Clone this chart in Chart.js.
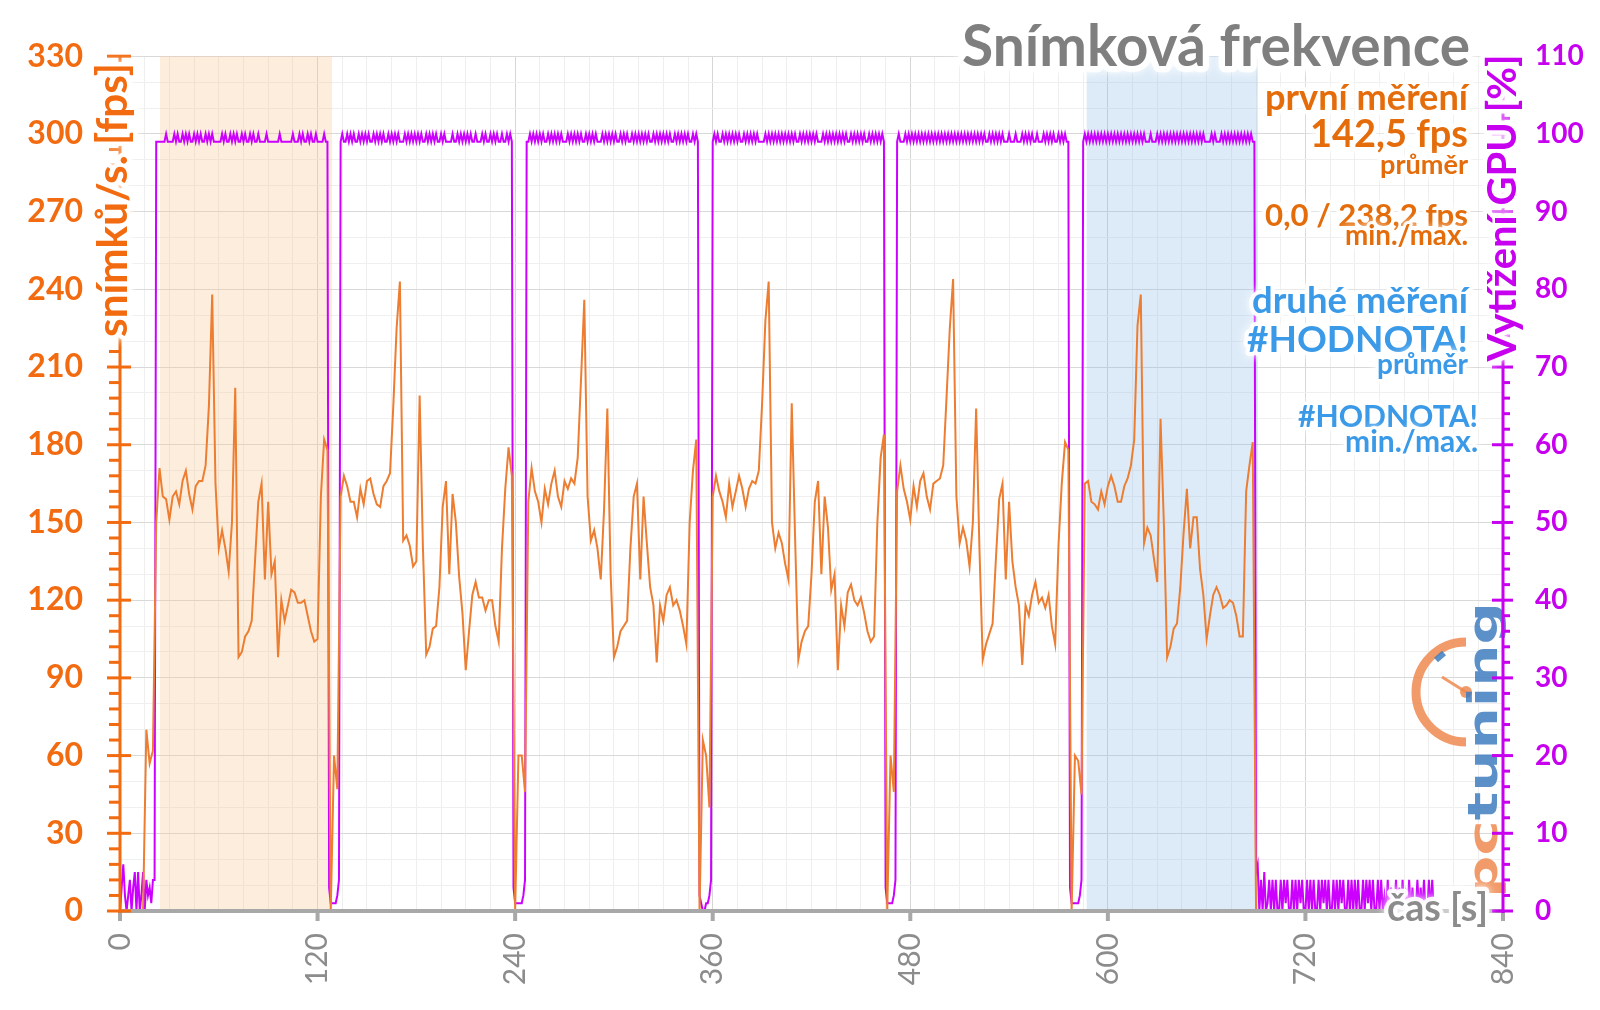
<!DOCTYPE html>
<html><head><meta charset="utf-8">
<script src="https://cdn.jsdelivr.net/npm/chart.js@4.4.1/dist/chart.umd.min.js"></script>
<style>html,body{margin:0;padding:0;background:#fff;}canvas{display:block;}</style>
</head><body>
<canvas id="c" width="1600" height="1010"></canvas>
<script>
// ---------------- DATA ----------------
// Frame rate (fps), one value every 2 s starting at 0 s
const fpsStepSec = 2;
const fpsIdleStart = [0,0,0,0,0,0,0,0,70,57,62];
const fpsRun1 = [150,171,160,159,151,160,162,157,166,170,
                 161,155,164,166,166,172,195,238,165,140,
                 147,140,131,150,202,98,100,106,108,112,
                 135,158,165,128,158,130,135,98,120,112,
                 118,124,123,119,119,120,114,108,104,105,
                 160,182,178];
const fpsGap1 = [0,60,47];
const fpsRun2 = [160,168,164,158,158,152,163,157,166,167,
                 161,157,156,164,166,169,195,225,243,143,
                 145,141,133,135,199,140,99,102,109,110,
                 125,156,166,130,161,150,129,115,93,108,
                 122,127,121,121,116,120,120,110,104,140,
                 163,179,168];
const fpsGap2 = [0,60,60,46];
const fpsRun3 = [158,171,162,158,150,163,157,165,170,160,
                 156,166,163,167,165,175,205,236,160,143,
                 147,140,128,155,194,130,98,102,108,110,
                 112,140,160,165,128,160,142,125,118,96,
                 118,112,122,125,118,120,116,110,103,150,
                 170,182];
const fpsGap3 = [0,66,60,40];
const fpsRun4 = [160,168,162,158,152,165,156,162,168,163,
                 156,163,166,165,170,196,228,243,150,140,
                 146,142,134,128,196,145,97,104,108,110,
                 130,158,166,130,160,148,124,130,93,118,
                 110,123,126,120,118,121,115,108,104,106,
                 150,175,184];
const fpsGap4 = [0,60,46];
const fpsRun5 = [162,172,163,158,151,164,156,166,169,160,
                 155,165,166,167,172,198,225,244,160,142,
                 148,143,133,150,194,140,97,103,107,111,
                 136,159,165,128,158,135,125,118,95,118,
                 114,122,127,119,121,117,122,110,103,141,
                 165,181,178];
const fpsGap5 = [0,60,58,45];
const fpsRun6 = [165,166,158,157,155,162,157,164,168,164,
                 158,158,164,167,172,182,226,238,142,148,
                 145,136,127,190,150,98,102,109,111,125,
                 146,163,140,152,152,132,122,105,114,122,
                 125,122,117,118,120,119,114,106,106,162,
                 172,181];
const fpsIdleEnd = [0,0,0,0,0,0,0,0,0,0,0,
                    0,0,0,0,0,0,0,0,0,0,0,
                    0,0,0,0,0,0,0,0,0,0,0,
                    0,0,0,0,0,0,0,0,0,0,0,
                    0,0,0,0,0,0,0,0,0,0,0];

// GPU load (%), one value every 1 s starting at 0 s
const gpuStepSec = 1;
const gpuIdleStart = [0,3,6,2,0,2,4,0,3,5,0,5,0,2,5,0,4,2,3,1,4,4];
const gpuRun1 = [99,99,99,99,99,99,100,99,99,99,99,100,99,100,99,
                 99,100,99,100,99,100,99,99,100,99,100,99,100,99,99,
                 100,99,100,99,100,99,99,99,99,99,100,99,100,99,99,
                 100,99,100,99,100,99,99,100,99,100,99,99,100,99,100,
                 99,99,100,99,99,99,99,100,99,99,99,99,99,99,99,
                 100,99,99,99,99,99,99,99,100,99,99,99,100,99,100,
                 99,99,100,99,100,99,99,100,99,99,99,99,100,99,99];
const gpuGap1 = [3,1,1,1,1,2,4];
const gpuRun2 = [99,100,99,99,100,99,100,99,100,99,99,100,99,100,99,
                 100,99,100,99,99,100,99,100,99,100,99,100,99,99,100,
                 99,100,99,100,99,100,99,99,99,100,99,100,99,100,99,
                 100,99,100,99,100,99,99,100,99,100,99,100,99,100,99,
                 99,100,99,100,99,99,99,99,100,99,99,100,99,100,99,
                 100,99,100,99,100,99,99,100,99,99,99,100,99,100,99,
                 99,100,99,100,99,100,99,99,100,99,99,100,99,100,99];
const gpuGap2 = [3,1,1,1,1,1,2,4];
const gpuRun3 = [99,99,100,99,100,99,100,99,100,99,100,99,99,100,99,
                 100,99,100,99,100,99,100,99,99,99,100,99,100,99,100,
                 99,100,99,100,99,99,100,99,100,99,100,99,100,99,99,
                 99,100,99,100,99,100,99,100,99,100,99,99,100,99,100,
                 99,100,99,99,100,99,100,99,100,99,100,99,100,99,100,
                 99,99,100,99,100,99,100,99,100,99,100,99,100,99,99,
                 100,99,100,99,100,99,100,99,100,99,99,100,99,100,99];
const gpuGap3 = [2,1,0,0,1,1,2,4];
const gpuRun4 = [99,100,99,100,99,99,100,99,100,99,100,99,100,99,100,
                 99,100,99,99,100,99,100,99,100,99,100,99,100,99,99,
                 99,99,100,99,100,99,100,99,100,99,100,99,100,99,100,
                 99,100,99,100,99,100,99,99,100,99,100,99,100,99,100,
                 99,100,99,100,99,99,99,100,99,100,99,100,99,100,99,
                 100,99,100,99,100,99,100,99,99,100,99,100,99,100,99,
                 100,99,100,99,99,100,99,100,99,100,99,100,99,100,99];
const gpuGap4 = [3,1,1,1,1,2,4];
const gpuRun5 = [99,100,99,99,99,100,99,100,99,100,99,100,99,100,99,
                 100,99,100,99,100,99,100,99,100,99,100,99,100,99,100,
                 99,100,99,100,99,100,99,100,99,100,99,100,99,100,99,
                 100,99,100,99,100,99,100,99,100,99,99,100,99,100,99,
                 100,99,100,99,100,99,99,99,100,99,99,99,100,99,99,
                 99,100,99,100,99,100,99,100,99,99,100,99,99,99,100,
                 99,100,99,100,99,100,99,99,100,99,100,99,100,99,99];
const gpuGap5 = [3,1,1,1,1,1,2,4];
const gpuRun6 = [99,100,99,100,99,100,99,100,99,100,99,100,99,100,99,
                 100,99,100,99,100,99,100,99,100,99,100,99,100,99,100,
                 99,100,99,100,99,100,99,100,99,99,99,100,99,99,99,
                 100,99,100,99,100,99,100,99,100,99,100,99,100,99,100,
                 99,100,99,100,99,100,99,100,99,100,99,100,99,100,99,
                 99,99,99,100,99,100,99,99,99,100,99,100,99,100,99,
                 100,99,100,99,100,99,100,99,100,99,100,99,100,99,99];
const gpuIdleEnd = [5,6,0,4,0,5,0,1,4,0,4,0,4,0,0,
                    4,0,4,1,4,0,0,4,0,4,0,4,1,4,0,
                    0,4,0,4,0,4,0,0,4,0,4,1,4,0,4,
                    0,0,4,0,4,0,4,1,4,0,0,4,0,4,0,
                    4,0,4,0,0,4,0,4,1,4,0,4,0,0,4,
                    0,4,0,2,0,4,0,3,0,0,4,0,3,0,4,
                    0,2,0,4,0,3,0,0,4,0,3,0,4,0,0,
                    4,0,4,0];

// Highlighted measurement windows (s)
const firstMeasurementWindow = [24.3, 128.8];
const secondMeasurementWindow = [587.1, 691.2];

// Axis ticks
const xTickLabels = [0,120,240,360,480,600,720,840];
const fpsTickLabels = [0,30,60,90,120,150,180,210,240,270,300,330];
const gpuTickLabels = [0,10,20,30,40,50,60,70,80,90,100,110];

// Texts
const chartTitle = 'Snímková frekvence';
const fpsAxisTitle = 'snímků/s. [fps]';
const gpuAxisTitle = 'Vytížení GPU [%]';
const timeAxisTitle = 'čas [s]';
const firstSummary = ['první měření', '142,5 fps', 'průměr', '0,0 / 238,2 fps', 'min./max.'];
const secondSummary = ['druhé měření', '#HODNOTA!', 'průměr', '#HODNOTA!', 'min./max.'];

// ---------------- BUILD ----------------
const fpsSeries = [].concat(fpsIdleStart, fpsRun1, fpsGap1, fpsRun2, fpsGap2, fpsRun3, fpsGap3,
                            fpsRun4, fpsGap4, fpsRun5, fpsGap5, fpsRun6, fpsIdleEnd);
const gpuSeries = [].concat(gpuIdleStart, gpuRun1, gpuGap1, gpuRun2, gpuGap2, gpuRun3, gpuGap3,
                            gpuRun4, gpuGap4, gpuRun5, gpuGap5, gpuRun6, gpuIdleEnd);
const fpsPoints = fpsSeries.map((v, i) => ({x: i * fpsStepSec, y: v}));
const gpuPoints = gpuSeries.map((v, i) => ({x: i * gpuStepSec, y: v}));

const C = {
  fpsLine: '#ED7D31', gpuLine: '#CC00FF', fpsAxis: '#F26B10', gpuAxis: '#C800F0',
  orangeTxt: '#E46C0A', blueTxt: '#3B9AE8', title: '#7F7F7F', xAxis: '#A8A8A8', xLabel: '#8C8C8C'
};
const FONT = 'Lato, "Open Sans", sans-serif';

function fitSize(ctx, text, target, weight) {
  ctx.font = `${weight} 100px ${FONT}`;
  return 100 * target / ctx.measureText(text).width;
}
function haloText(ctx, text, x, y, size, color, align, weight) {
  ctx.save();
  ctx.font = `${weight} ${size}px ${FONT}`;
  ctx.textAlign = align; ctx.textBaseline = 'alphabetic';
  ctx.lineJoin = 'round';
  ctx.strokeStyle = 'rgba(255,255,255,0.92)';
  ctx.shadowColor = '#ffffff'; ctx.shadowBlur = 8;
  ctx.lineWidth = Math.max(5, size * 0.22);
  ctx.strokeText(text, x, y);
  ctx.shadowBlur = 0;
  ctx.fillStyle = color;
  ctx.fillText(text, x, y);
  ctx.restore();
}
function fitHalo(ctx, text, x, y, width, color, align, weight) {
  haloText(ctx, text, x, y, fitSize(ctx, text, width, weight), color, align, weight);
}
function rotatedHalo(ctx, text, cx, cy, length, color) {
  ctx.save();
  ctx.translate(cx, cy); ctx.rotate(-Math.PI / 2);
  const size = fitSize(ctx, text, length, 'bold');
  ctx.font = `bold ${size}px ${FONT}`;
  ctx.textAlign = 'center'; ctx.textBaseline = 'middle';
  ctx.lineJoin = 'round';
  ctx.strokeStyle = 'rgba(255,255,255,0.95)';
  ctx.shadowColor = '#ffffff'; ctx.shadowBlur = 8;
  ctx.lineWidth = 9;
  ctx.strokeText(text, 0, 0);
  ctx.shadowBlur = 0;
  ctx.fillStyle = color; ctx.fillText(text, 0, 0);
  ctx.restore();
}
function drawLogo(ctx) {
  ctx.save();
  ctx.globalAlpha = 0.85;
  // dial
  ctx.strokeStyle = '#F08A50'; ctx.lineWidth = 9; ctx.lineCap = 'butt';
  ctx.beginPath(); ctx.arc(1466, 692, 50, Math.PI * 0.5, Math.PI * 1.5); ctx.stroke();
  ctx.strokeStyle = '#3E7DBF'; ctx.lineWidth = 6;
  ctx.beginPath(); ctx.moveTo(1436, 660); ctx.lineTo(1444, 653); ctx.stroke();
  ctx.strokeStyle = '#F08A50'; ctx.lineWidth = 3;
  ctx.beginPath(); ctx.moveTo(1442, 677); ctx.lineTo(1466, 692); ctx.stroke();
  ctx.fillStyle = '#F08A50';
  ctx.beginPath(); ctx.arc(1466, 692, 6, 0, Math.PI * 2); ctx.fill();
  // word mark
  ctx.translate(1497, 898); ctx.rotate(-Math.PI / 2);
  ctx.font = `bold 52px "DejaVu Sans", sans-serif`;
  ctx.textBaseline = 'alphabetic'; ctx.textAlign = 'left';
  const wPc = ctx.measureText('pc').width, wAll = ctx.measureText('pctuning').width;
  ctx.scale(296 / wAll, 0.8);
  ctx.fillStyle = '#F08A50'; ctx.fillText('pc', 0, 0);
  ctx.fillStyle = '#3E7DBF'; ctx.fillText('tuning', wPc, 0);
  ctx.restore();
}
function seg(ctx, x0, y0, x1, y1) { ctx.beginPath(); ctx.moveTo(x0, y0); ctx.lineTo(x1, y1); ctx.stroke(); }

const decor = {
  id: 'decor',
  beforeDatasetsDraw(chart) {
    const {ctx, chartArea: a, scales: {x}} = chart;
    ctx.save();
    [[firstMeasurementWindow, 'rgba(248,198,148,0.32)'], [secondMeasurementWindow, 'rgba(142,188,232,0.30)']].forEach(([w, col]) => {
      const x0 = x.getPixelForValue(w[0]), x1 = x.getPixelForValue(w[1]);
      ctx.fillStyle = col; ctx.fillRect(x0, a.top, x1 - x0, a.bottom - a.top);
    });
    ctx.restore();
  },
  afterDatasetsDraw(chart) {
    const {ctx, chartArea: a, scales: {x, yFps, yGpu}} = chart;
    drawLogo(ctx);
    ctx.save();
    ctx.lineCap = 'butt';
    // time axis
    ctx.strokeStyle = C.xAxis; ctx.lineWidth = 4;
    seg(ctx, a.left, a.bottom, a.right, a.bottom);
    xTickLabels.forEach(v => { const px = x.getPixelForValue(v); seg(ctx, px, a.bottom, px, a.bottom + 10); });
    // fps axis
    ctx.strokeStyle = C.fpsAxis; ctx.lineWidth = 3;
    seg(ctx, a.left, a.top, a.left, a.bottom + 2);
    for (let v = 0; v <= yFps.max; v += 6) {
      const py = yFps.getPixelForValue(v);
      if (fpsTickLabels.includes(v)) seg(ctx, a.left - 13, py, a.left + 11, py);
      else seg(ctx, a.left - 11, py, a.left, py);
    }
    // gpu axis
    ctx.strokeStyle = C.gpuAxis; ctx.lineWidth = 3;
    seg(ctx, a.right, a.top, a.right, a.bottom + 2);
    for (let v = 0; v <= yGpu.max; v += 2) {
      const py = yGpu.getPixelForValue(v);
      if (gpuTickLabels.includes(v)) seg(ctx, a.right - 11, py, a.right + 10, py);
      else seg(ctx, a.right, py, a.right + 7, py);
    }
    ctx.restore();
  },
  afterDraw(chart) {
    const {ctx} = chart;
    rotatedHalo(ctx, fpsAxisTitle, 113, 200, 274, C.fpsAxis);
    rotatedHalo(ctx, gpuAxisTitle, 1503, 208, 307, C.gpuAxis);
    fitHalo(ctx, chartTitle, 1470, 66, 508, C.title, 'right', 'bold');
    fitHalo(ctx, firstSummary[0], 1468, 110, 203, C.orangeTxt, 'right', 'bold');
    fitHalo(ctx, firstSummary[1], 1468, 147, 158, C.orangeTxt, 'right', 'bold');
    fitHalo(ctx, firstSummary[2], 1468, 174, 88, C.orangeTxt, 'right', 'bold');
    fitHalo(ctx, firstSummary[3], 1468, 226, 203, C.orangeTxt, 'right', 'bold');
    fitHalo(ctx, firstSummary[4], 1468, 245, 123, C.orangeTxt, 'right', 'bold');
    fitHalo(ctx, secondSummary[0], 1468, 313, 216, C.blueTxt, 'right', 'bold');
    fitHalo(ctx, secondSummary[1], 1468, 352, 221, C.blueTxt, 'right', 'bold');
    fitHalo(ctx, secondSummary[2], 1468, 374, 91, C.blueTxt, 'right', 'bold');
    fitHalo(ctx, secondSummary[3], 1478, 427, 180, C.blueTxt, 'right', 'bold');
    fitHalo(ctx, secondSummary[4], 1478, 452, 133, C.blueTxt, 'right', 'bold');
    fitHalo(ctx, timeAxisTitle, 1488, 921, 101, C.xLabel, 'right', 'bold');
  }
};

new Chart(document.getElementById('c'), {
  type: 'line',
  data: {
    datasets: [
      {label: 'fps', data: fpsPoints, yAxisID: 'yFps', borderColor: C.fpsLine, borderWidth: 2,
       pointRadius: 0, tension: 0, fill: false},
      {label: 'GPU', data: gpuPoints, yAxisID: 'yGpu', borderColor: C.gpuLine, borderWidth: 2,
       pointRadius: 0, tension: 0, fill: false}
    ]
  },
  options: {
    responsive: false, animation: false, devicePixelRatio: 1, events: [],
    layout: {padding: {top: 55, left: 0, right: 0, bottom: 0}},
    plugins: {legend: {display: false}, tooltip: {enabled: false}, title: {display: false}},
    scales: {
      x: {
        type: 'linear', min: 0, max: 840,
        border: {display: false},
        grid: {drawTicks: false, lineWidth: 1,
               color: c => xTickLabels.includes(c.tick.value) ? '#D6D6D6' : '#EEEEEE'},
        ticks: {stepSize: 15, autoSkip: false, minRotation: 90, maxRotation: 90, padding: 22,
                color: C.xLabel, font: {family: FONT, size: 30, weight: 'normal'},
                callback: v => xTickLabels.includes(v) ? String(v) : ''},
        afterFit: s => { s.height = 99; }
      },
      yFps: {
        type: 'linear', position: 'left', min: 0, max: 330,
        border: {display: false},
        grid: {drawTicks: false, lineWidth: 1,
               color: c => fpsTickLabels.includes(c.tick.value) ? '#D9D9D9' : '#EFEFEF'},
        ticks: {stepSize: 10, autoSkip: false, padding: 37, color: C.fpsAxis,
                font: {family: FONT, size: 32, weight: 'bold'},
                callback: v => fpsTickLabels.includes(v) ? String(v) : ''},
        afterFit: s => { s.width = 120; }
      },
      yGpu: {
        type: 'linear', position: 'right', min: 0, max: 110,
        border: {display: false},
        grid: {drawOnChartArea: false, drawTicks: false},
        ticks: {stepSize: 10, autoSkip: false, padding: 32, color: C.gpuAxis,
                font: {family: FONT, size: 28, weight: 'bold'},
                callback: v => gpuTickLabels.includes(v) ? String(v) : ''},
        afterFit: s => { s.width = 97; }
      }
    }
  },
  plugins: [decor]
});
</script>
</body></html>
